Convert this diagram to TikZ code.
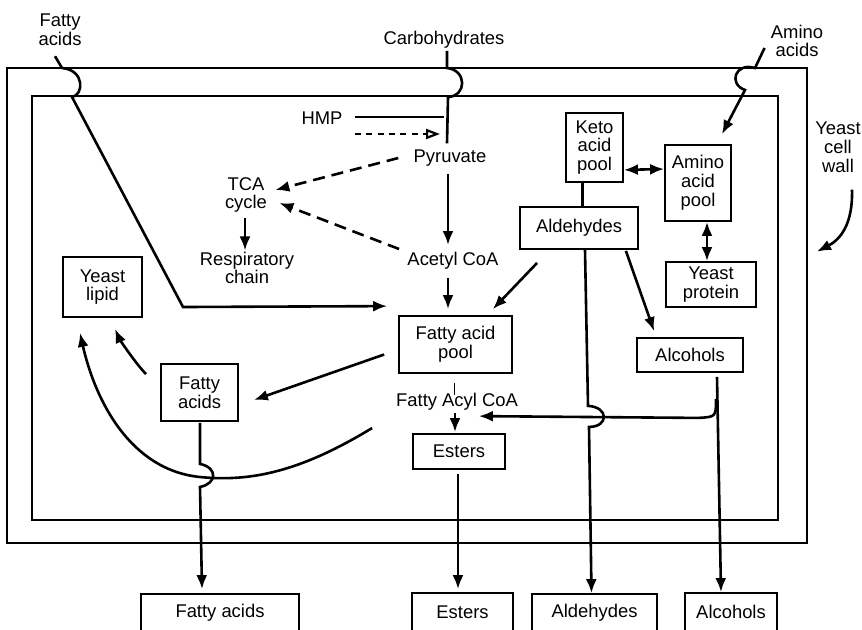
\documentclass[tikz,border=0pt]{standalone}
\usepackage{fontspec}
\setmainfont{Liberation Sans}
\usetikzlibrary{arrows.meta,calc}
\tikzset{
  txt/.style={font=\fontsize{9.2}{9.4}\selectfont,align=center},
  box/.style={txt,draw=black,line width=0.9pt,inner sep=0pt},
  lbl/.style={txt,inner sep=1pt},
  link/.style={line width=1.3pt},
  flow/.style={link,-{Latex[length=7pt,width=5.5pt]}},
  both/.style={link,{Latex[length=7pt,width=5.5pt]}-{Latex[length=7pt,width=5.5pt]}},
  dflow/.style={flow,dash pattern=on 6pt off 3.5pt},
  hflow/.style={line width=1.1pt,dash pattern=on 3pt off 2.7pt,-{Triangle[open,length=7pt,width=5pt]}},
  wall/.style={line width=0.7pt}
}

\begin{document}
\begin{tikzpicture}[x=0.5pt,y=-0.5pt]
    \useasboundingbox (0,0) rectangle (862,629);
    \clip (0,0) rectangle (862,629);
    \draw[wall] (7,68) rectangle (807,543);
    \draw[wall] (32,96) rectangle (778,520);

    \node[lbl] (fatin) at (60,30) {Fatty\\acids};
    \node[lbl] (carb) at (444,40) {Carbohydrates};
    \node[lbl] (aain) at (797,41) {Amino\\acids};
    \node[lbl] (cw) at (838,147) {Yeast\\cell\\wall};
    \node[lbl] (hmp) at (322,118) {HMP};
    \node[lbl] (pyr) at (450,158) {Pyruvate};
    \node[lbl] (tca) at (246,195) {TCA\\cycle};
    \node[lbl] (resp) at (247,268) {Respiratory\\chain};
    \node[lbl] (acoa) at (453,261) {Acetyl CoA};
    \node[lbl] (acyl) at (457,402) {Fatty Acyl CoA};

    \node[box,minimum width=39.5pt,minimum height=30pt] (lipid) at (102.5,287) {Yeast\\lipid};
    \node[box,minimum width=38.5pt,minimum height=28.5pt] (fabox) at (199.5,392.5) {Fatty\\acids};
    \node[box,minimum width=56.5pt,minimum height=28.5pt] (pool) at (455.5,344.5) {Fatty acid\\pool};
    \node[box,minimum width=46pt,minimum height=17.5pt] (est) at (459,451.5) {Esters};
    \node[box,minimum width=28.5pt,minimum height=34.5pt] (keto) at (594.5,147.5) {Keto\\acid\\pool};
    \node[box,minimum width=33pt,minimum height=38pt] (amino) at (698,183) {Amino\\acid\\pool};
    \node[box,minimum width=59pt,minimum height=21pt] (ald) at (579,228) {Aldehydes};
    \node[box,minimum width=45pt,minimum height=22.5pt] (prot) at (711,284.5) {Yeast\\protein};
    \node[box,minimum width=53pt,minimum height=17pt] (alc) at (690,355) {Alcohols};

    \node[box,minimum width=79pt,minimum height=19pt] (fao) at (220,613) {Fatty acids};
    \node[box,minimum width=50.5pt,minimum height=19pt] (esto) at (462.5,612) {Esters};
    \node[box,minimum width=62.5pt,minimum height=19pt] (aldo) at (594.5,613) {Aldehydes};
    \node[box,minimum width=46pt,minimum height=19pt] (alco) at (731,612) {Alcohols};

    \coordinate (cin) at (448,97);

    \draw[flow] ($(fatin.south)+(-5,8)$) -- (62,68) .. controls (85,70) and (84,95) .. (72,97)
      -- (183,307) -- ($(pool.north west)+(-11,-9)$);
    \draw[link] ([xshift=1.5pt]carb.south) -- (447,68) .. controls (467,70) and (467,96) .. (cin)
      -- ($(pyr.north)+(-3,-4)$);
    \draw[link] ($(hmp.east)+(10,-1)$) -- ($(hmp.east -| cin)+(-4,-1)$);
    \draw[hflow] ($(hmp.east)+(10,16)$) -- ($(hmp.east -| cin)+(-8,16)$);

    \draw[flow] ($(pyr.south)+(-2,5)$) -- ($(pyr.south |- acoa.north)+(-2,-5)$);
    \draw[flow] ($(acoa.south)+(-5,6)$) -- ($(acoa.south |- pool.north)+(-5,-6)$);
    \draw[dflow] ($(pyr.west)+(-13,0)$) -- ($(tca.east)+(6,-5)$);
    \draw[dflow] ($(acoa.west)+(-6,-12)$) -- ($(tca.east)+(10,8)$);
    \draw[flow] ($(tca.south)+(-1,3)$) -- ($(tca.south |- resp.north)+(-1,1)$);

    \draw[flow] ($(ald.south west)+(18,13)$) -- ($(pool.north east)+(-20,-6)$);
    \draw[flow] ($(pool.west)+(-14,10)$) -- ($(fabox.east)+(15,7.5)$);
    \draw[line width=0.5pt] ($(pool.south)+(-1.5,9)$) -- ($(acyl.north)+(-3,3.5)$);
    \draw[flow] ($(acyl.south)+(-2,0)$) -- ($(acyl.south |- est.north)+(-2,-1)$);

    \draw[link] ($(keto.south)+(-12,0)$) -- ($(keto.south |- ald.north)+(-12,0)$);
    \draw[both] ($(keto.south east)+(0,-13)$) -- ($(amino.west)+(0,-14)$);
    \draw[both] ($(amino.south)+(9,0)$) -- ($(amino.south |- prot.north)+(9,0)$);
    \draw[flow] ($(aain.west)+(-4,7)$) -- (755,68) .. controls (735,62) and (728,84) .. (745,90)
      -- ($(amino.north)+(24,-10)$);
    \draw[flow] ($(cw.south)+(14,15)$) .. controls ($(cw.south)+(15,50)$) and ($(cw.south)+(2,65)$)
      .. ($(cw.south)+(-21,77)$);

    \draw[flow] ($(ald.south)+(6,0)$) -- ($(ald.south)+(9,156)$)
      .. controls ($(ald.south)+(30,157)$) and ($(ald.south)+(30,177)$) .. ($(ald.south)+(10,177)$)
      -- ($(aldo.north)+(-3,0)$);
    \draw[flow] ($(ald.south east)+(-13,1)$) -- ($(alc.north west)+(18,-6)$);
    \draw[flow] ($(alc.south)+(27,4)$) -- ($(alco.north)+(-10,0)$);
    \draw[flow] ($(alc.south)+(26,26)$) .. controls ($(alc.south)+(26,44)$) .. ($(alc.south)+(8,45)$)
      -- ($(est.north east)+(-27,-17)$);

    \draw[flow] ($(est.south)+(-1,4)$) -- ($(est.south |- esto.north)+(-1,-3)$);
    \draw[flow] ($(fabox.south)+(0.5,1)$) -- ($(fabox.south)+(0.5,42)$)
      .. controls ($(fabox.south)+(19,46)$) and ($(fabox.south)+(17,62)$) .. ($(fabox.south)+(0.5,65)$)
      -- ($(fabox.south |- fao.north)+(2.5,-4)$);
    \draw[flow] ($(est.west)+(-40,-23.5)$) .. controls (300,472) and (250,482) .. (200,477)
      .. controls (130,470) and (95,400) .. ($(lipid.south)+(-22.5,15)$);
    \draw[flow] ($(fabox.north west)+(-14,11)$) .. controls (135,363) and (119,338)
      .. ($(lipid.south)+(12.5,11)$);
\end{tikzpicture}
\end{document}
